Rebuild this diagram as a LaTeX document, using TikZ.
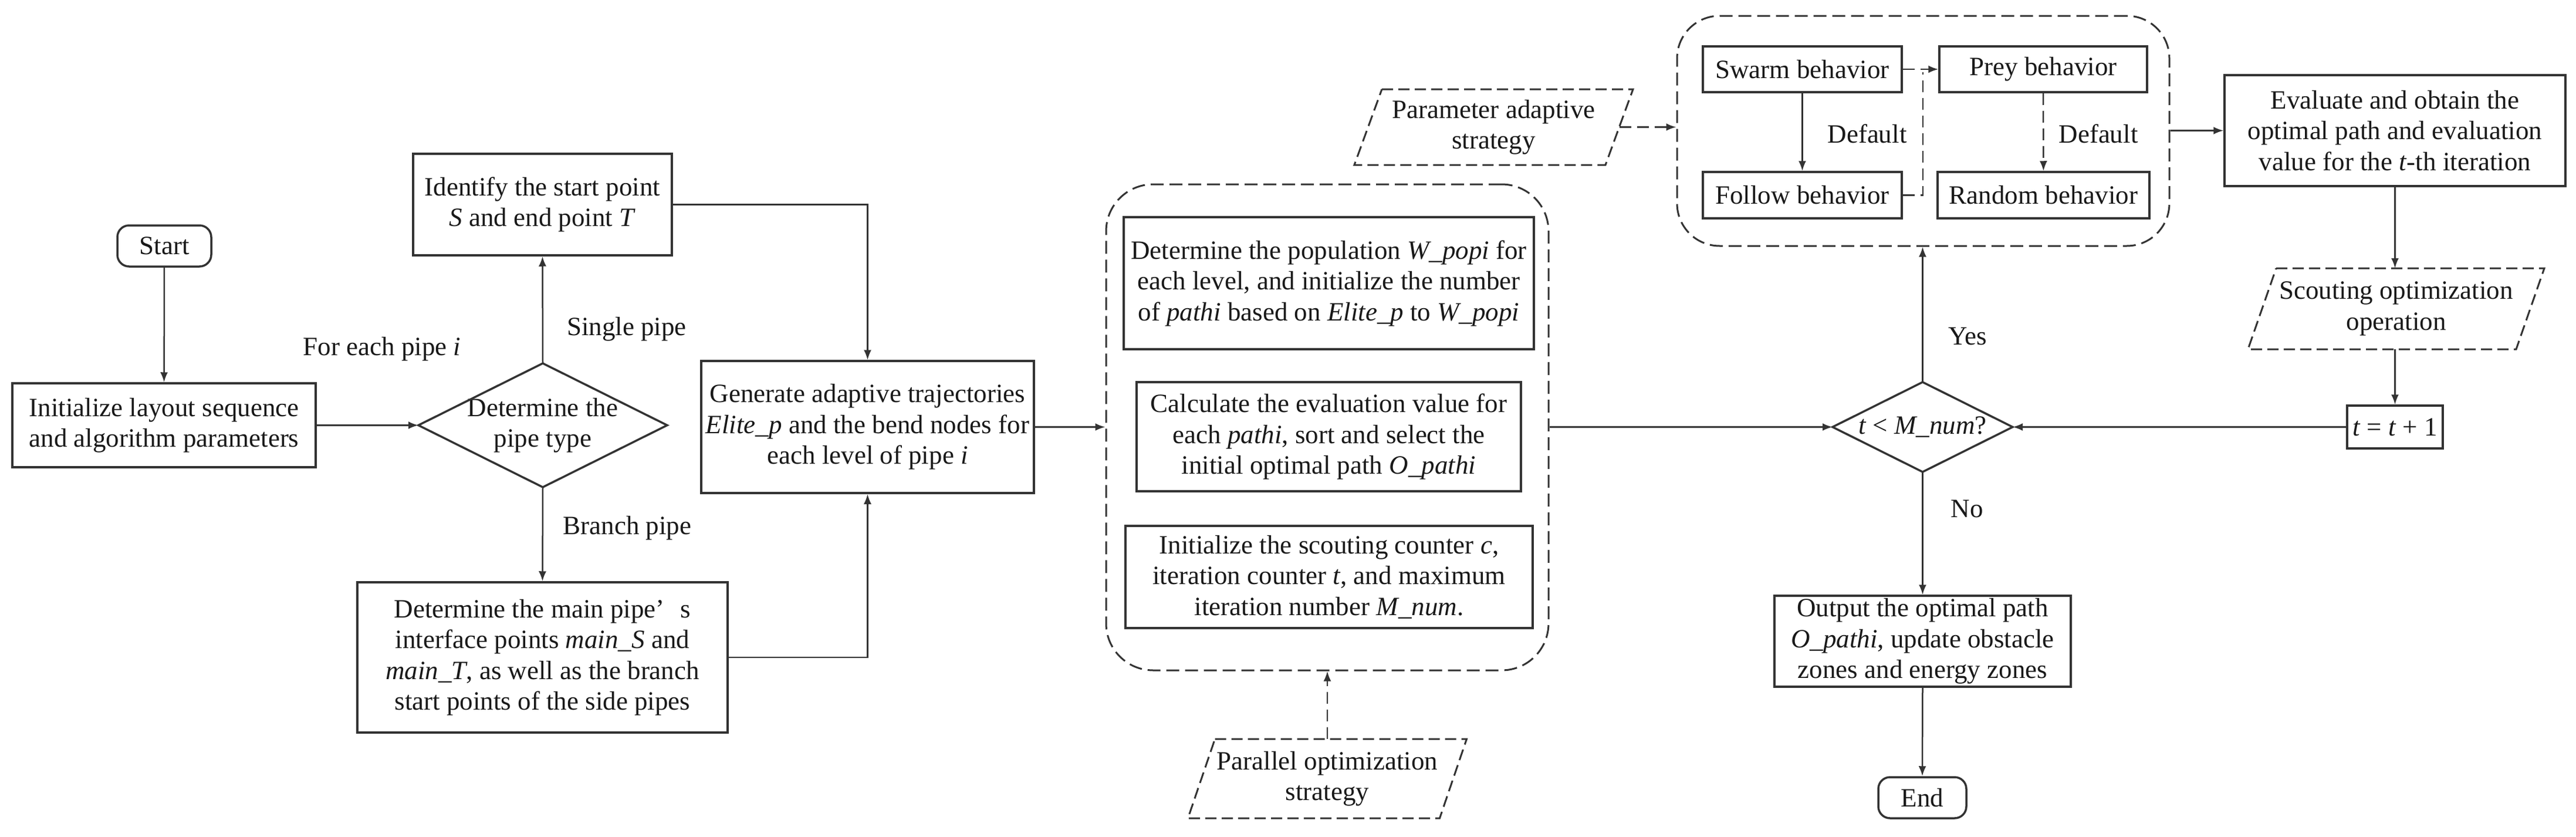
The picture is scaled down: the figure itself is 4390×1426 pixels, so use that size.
\documentclass[tikz,border=0pt]{standalone}
\usepackage{fontspec}
\setmainfont{Liberation Serif}
\usetikzlibrary{arrows.meta}
\def\pxu{0.2pt}
\newcommand\parallelo[2]{\draw[pline] ([xshift=#2]#1.north west) -- (#1.north east) -- ([xshift=-#2]#1.south east) -- (#1.south west) -- cycle;}
\newcommand\diamondout[1]{\draw[line width=0.7pt, draw=black!80] (#1.north) -- (#1.east) -- (#1.south) -- (#1.west) -- cycle;}
\tikzset{
  every node/.style={font=\fontsize{9}{10.5}\selectfont, text=black!90},
  box/.style={draw=black!80, line width=0.7pt, align=center, inner sep=0pt},
  plain/.style={align=center, inner sep=0pt},
  conn/.style={draw=black!80, line width=0.5pt, -{Latex[length=3.4pt,width=2.6pt]}},
  dconn/.style={conn, dash pattern=on 4pt off 2pt},
  dline/.style={draw=black!80, line width=0.5pt, dash pattern=on 4pt off 2pt},
  pline/.style={draw=black!80, line width=0.6pt, dash pattern=on 3.8pt off 1.8pt},
  cont/.style={draw=black!80, line width=0.6pt, dash pattern=on 4.4pt off 2pt, inner sep=0pt},
  sz/.style 2 args={minimum width=#1*\pxu, minimum height=#2*\pxu},
}
\begin{document}
\begin{tikzpicture}[x=0.2pt,y=-0.2pt]
\useasboundingbox (0,0) rectangle (4390,1426);

% left part
\node[box, sz={160}{70}, rounded corners=4pt] (start) at (280,419) {Start};
\node[box, sz={517}{143}] (init) at (279.5,724.5) {Initialize layout sequence\\and algorithm parameters};
\node[plain, sz={422}{209}] (dtype) at (925,724.5) {Determine the\\pipe type};
\diamondout{dtype}
\node[box, sz={441}{173}] (ident) at (924.5,348.5) {Identify the start point\\\textit{S} and end point \textit{T}};
\node[box, sz={631}{256}] (branch) at (924.5,1120) {Determine the main pipe’\hspace{0.6em}s\\interface points \textit{main\_S} and\\\textit{main\_T}, as well as the branch\\start points of the side pipes};
\node[box, sz={567}{225}] (gen) at (1478.5,727.5) {Generate adaptive trajectories\\\textit{Elite\_p} and the bend nodes for\\each level of pipe \textit{i}};

\node[plain] (lfor) at (651,595) {For each pipe \textit{i}};
\node[plain] (lsingle) at (1068,561) {Single pipe};
\node[plain] (lbranch) at (1069,900) {Branch pipe};

% initialization container
\node[cont, sz={754}{828}, rounded corners=16pt] (cont1) at (2262,728) {};
\node[box, sz={699}{225}] (b1) at (2264.5,482.5) {Determine the population \textit{W\_popi} for\\each level, and initialize the number\\of \textit{pathi} based on \textit{Elite\_p} to \textit{W\_popi}};
\node[box, sz={655}{186}] (b2) at (2264.5,744) {Calculate the evaluation value for\\each \textit{pathi}, sort and select the\\initial optimal path \textit{O\_pathi}};
\node[box, sz={694}{174}] (b3) at (2265,983) {Initialize the scouting counter \textit{c},\\iteration counter \textit{t}, and maximum\\iteration number \textit{M\_num}.};

\node[plain, sz={473}{133}] (parallel) at (2262,1326.5) {Parallel optimization\\strategy};
\parallelo{parallel}{9.2pt}

% behaviour container
\node[cont, sz={839}{392}, rounded corners=14.5pt] (cont2) at (3277.5,223) {};
\node[box, sz={339}{78}] (swarm) at (3071.5,118) {Swarm behavior};
\node[box, sz={354}{78}] (prey) at (3482,118) {Prey behavior};
\node[box, sz={339}{79}] (follow) at (3071.5,332.5) {Follow behavior};
\node[box, sz={361}{79}] (random) at (3482.5,332.5) {Random behavior};
\node[plain] (ldef1) at (3182,228) {Default};
\node[plain] (ldef2) at (3576,228) {Default};
\coordinate (jn) at (3277,118);

\node[plain, sz={473}{127}] (param) at (2545.5,216.5) {Parameter adaptive\\strategy};
\parallelo{param}{9.4pt}

% right part
\node[box, sz={581}{189}] (eval) at (4081.5,222.5) {Evaluate and obtain the\\optimal path and evaluation\\value for the \textit{t}-th iteration};
\node[plain, sz={503}{136}] (scout) at (4083.5,526) {Scouting optimization\\operation};
\parallelo{scout}{9.6pt}
\node[box, sz={163}{73}] (tinc) at (4081.5,727.5) {\textit{t} = \textit{t} + 1};
\node[plain, sz={305}{151}] (dec2) at (3276.5,727.5) {\textit{t} < \textit{M\_num}?};
\diamondout{dec2}
\node[box, sz={505}{155}] (output) at (3276.5,1092.5) {Output the optimal path\\\textit{O\_pathi}, update obstacle\\zones and energy zones};
\node[box, sz={150}{70}, rounded corners=4pt] (end) at (3276,1359) {End};
\node[plain] (lyes) at (3353,573) {Yes};
\node[plain] (lno) at (3352,867) {No};

% connectors
\draw[conn] (start) -- (init);
\draw[conn] (init.east) -- (dtype.west);
\draw[conn] (dtype.north) -- (ident.south);
\draw[conn] (dtype.south) -- (branch.north);
\draw[conn] (ident.east) -| (gen.north);
\draw[conn] (branch.east) -| (gen.south);
\draw[conn] (gen.east) -- (gen.east -| cont1.west);
\draw[dconn] (parallel.north) -- (parallel.north |- cont1.south);
\draw[conn] (cont1.east |- dec2.west) -- (dec2.west);
\draw[conn] (dec2.north) -- (dec2.north |- cont2.south);
\draw[conn] (dec2.south) -- (output.north);
\draw[conn] (output.south) -- (end.north);
\draw[dconn] ([xshift=-4.7pt]param.east) -- (param.east -| cont2.west);
\draw[conn] (swarm) -- (follow);
\draw[dconn] (prey) -- (random);
\draw[dconn] (swarm.east) -- (prey.west);
\draw[dline] (follow.east) -| ([yshift=-1pt]jn);
\draw[conn] (cont2.east |- eval.west) -- (eval.west);
\draw[conn] (eval.south) -- (eval.south |- scout.north);
\draw[conn] (scout.south -| tinc.north) -- (tinc.north);
\draw[conn] (tinc.west) -- (dec2.east);
\end{tikzpicture}
\end{document}
